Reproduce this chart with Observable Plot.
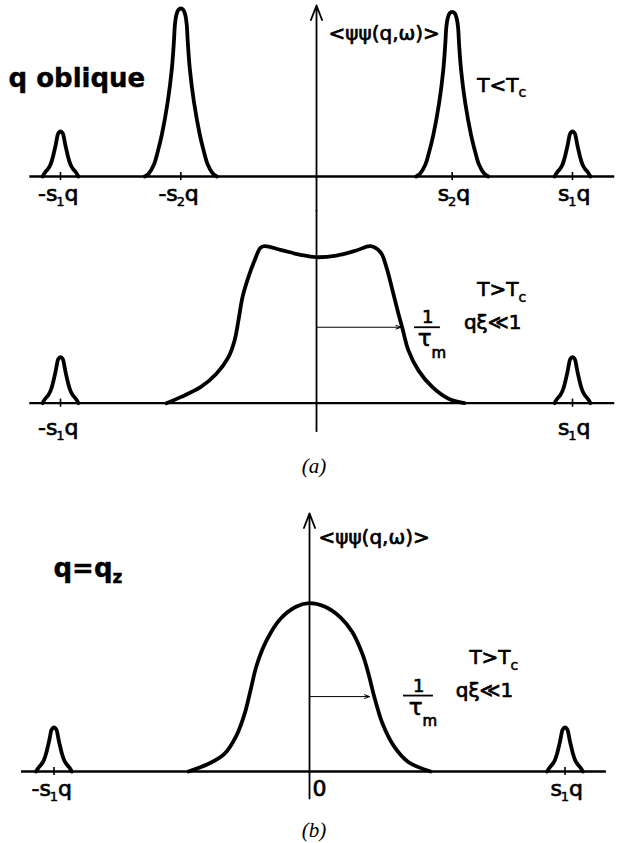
<!DOCTYPE html>
<html><head><meta charset="utf-8">
<script src="https://cdn.jsdelivr.net/npm/d3@7"></script>
<script src="https://cdn.jsdelivr.net/npm/@observablehq/plot@0.6"></script>
<style>
body{margin:0;background:#fff;}
#fig{width:628px;}
#fig svg{display:block;}
.cap{font-family:"Liberation Serif","Times New Roman",serif;font-style:italic;font-size:21px;text-align:center;width:628px;box-sizing:border-box;}
</style></head><body><div id="fig"></div>
<script>
// ---- data (ω in units where s1·q = 10, intensity in units of the tall peak) ----
const s1 = 10, s2 = 5.3;

// sharp Bragg-like peaks (T < Tc): offsets from centre and relative intensity
const bigPeakDw = [-1.41,-1.25,-1.05,-0.90,-0.74,-0.51,-0.35,-0.27,-0.23,-0.18,-0.10,0,0.10,0.18,0.23,0.27,0.35,0.51,0.74,0.90,1.05,1.25,1.41];
const bigPeakI  = [0,0.018,0.071,0.149,0.25,0.446,0.643,0.804,0.905,0.958,0.991,1,0.991,0.958,0.905,0.804,0.643,0.446,0.25,0.149,0.071,0.018,0];
const smallPeakDw = [-0.70,-0.625,-0.47,-0.39,-0.31,-0.246,-0.1875,-0.148,-0.109,-0.078,0,0.078,0.109,0.148,0.1875,0.246,0.31,0.39,0.47,0.625,0.70];
const smallPeakI  = [0,0.073,0.184,0.267,0.407,0.556,0.704,0.822,0.927,0.967,1,0.967,0.927,0.822,0.704,0.556,0.407,0.267,0.184,0.073,0];

// top panel (T<Tc): peak centres, kinds, amplitudes, tick labels (prefix, subscript)
const topCenters = [-s1, -s2, s2, s1];
const topKinds   = ["small", "big", "big", "small"];
const topAmps    = [0.268, 1.0, 0.98, 0.268];
const topTickPrefix = ["-s", "-s", "s", "s"];
const topTickSub    = ["1", "2", "2", "1"];

// middle panel (T>Tc, q oblique): broad response
const midW = [-5.86,-5.31,-4.53,-3.91,-3.44,-3.20,-3.05,-2.89,-2.66,-2.42,-2.19,-2.03,-1.41,-0.625,0,0.78,1.56,2.11,2.5,2.73,2.97,3.2,3.36,3.59,3.98,4.53,5.16,5.78];
const midI = [0,0.036,0.095,0.175,0.274,0.373,0.492,0.631,0.75,0.849,0.925,0.935,0.913,0.883,0.869,0.879,0.909,0.935,0.899,0.81,0.671,0.532,0.443,0.314,0.195,0.095,0.026,0];
const midCenters = [-s1, s1];
const midAmps = [0.274, 0.274];
const midTickPrefix = ["-s", "s"];
const midTickSub    = ["1", "1"];

// bottom panel (q = qz): single central peak
const botW = [-4.74,-3.95,-3.33,-2.86,-2.54,-2.31,-2.07,-1.68,-1.135,-0.51,0,0.59,1.21,1.68,2.07,2.31,2.54,2.86,3.33,3.88,4.74];
const botI = [0,0.046,0.105,0.214,0.343,0.482,0.631,0.78,0.909,0.982,1.002,0.982,0.918,0.829,0.7,0.581,0.442,0.284,0.145,0.055,0];
const botCenters = [-s1, s1];
const botAmps = [0.262, 0.262];
const botTickPrefix = ["-s", "s"];
const botTickSub    = ["1", "1"];

// width markers 1/τm
const midHalfWidth = 3.3, midHalfLevel = 0.452;
const botHalfWidth = 2.35, botHalfLevel = 0.446;

// ---- helpers ----
function peak(center, kind, amp, key) {
  const dw = kind === "big" ? bigPeakDw : smallPeakDw;
  const I = kind === "big" ? bigPeakI : smallPeakI;
  return dw.map((d, i) => ({w: center + d, I: amp * I[i], key}));
}
const FONT = "DejaVu Sans";
const W = 628;
const heavy = {stroke: "#000", strokeWidth: 0.7, fill: "#000"};
const curveStyle = {x: "w", y: "I", z: "key", curve: "catmull-rom", stroke: "#000", strokeWidth: 3.8, strokeLinejoin: "round", strokeLinecap: "round"};
function baseline(x1, x2) { return Plot.ruleY([0], {x1, x2, stroke: "#000", strokeWidth: 2.4}); }
function ticks(pos) { return Plot.ruleX(pos, {x: d => d, y1: -0.024, y2: 0.024, stroke: "#000", strokeWidth: 1.6}); }
function tickLabels(pos, pre, sub, y) {
  const items = pos.map((p, i) => ({p, pre: pre[i], sub: sub[i], q: "q"}));
  const common = {x: "p", y, fontFamily: FONT, lineAnchor: "middle", ...heavy};
  return [
    Plot.text(items, {...common, text: "pre", fontSize: 22, textAnchor: "end", dx: -3}),
    Plot.text(items, {...common, text: "sub", fontSize: 13, textAnchor: "middle", dy: 8, strokeWidth: 0.5}),
    Plot.text(items, {...common, text: "q", fontSize: 22, textAnchor: "start", dx: 4})
  ];
}
function txt(x, y, t, opts = {}) {
  return Plot.text([t], {x, y, text: d => d, fontFamily: FONT, lineAnchor: "middle", ...heavy, ...opts});
}
function tauLabel(xc, yOne, yBar, xb1, xb2, yTau, yM) {
  return [
    txt(xc, yOne, "1", {fontSize: 18, textAnchor: "middle"}),
    Plot.ruleY([yBar], {x1: xb1, x2: xb2, stroke: "#000", strokeWidth: 1.8}),
    txt(xc, yTau, "τ", {fontSize: 23, textAnchor: "end", dx: 4}),
    txt(xc, yM, "m", {fontSize: 15, textAnchor: "start", dx: 4})
  ];
}
function condLabel(xEnd, yT, yc, xq, yq, sym) {
  return [
    txt(xEnd, yT, "T" + sym + "T", {fontSize: 20, textAnchor: "end"}),
    txt(xEnd, yc, "c", {fontSize: 14, textAnchor: "start", strokeWidth: 0.5}),
    txt(xq, yq, "qξ≪1", {fontSize: 20, textAnchor: "middle"})
  ];
}

const fig = document.getElementById("fig");

// ---- panel (a), T < Tc ----
const topPts = topCenters.flatMap((c, i) => peak(c, topKinds[i], topAmps[i], "t" + i));
fig.appendChild(Plot.plot({
  width: W, height: 210, margin: 0,
  x: {domain: [-12.344, 12.1875], axis: null},
  y: {domain: [-0.2024, 1.0476], axis: null},
  style: {fontFamily: FONT, overflow: "visible", background: "white"},
  marks: [
    baseline(-11.2, 11.65),
    ticks(topCenters),
    Plot.arrow([0], {x1: 0, x2: 0, y1: -0.2024, y2: 1.018, stroke: "#000", strokeWidth: 1.8, headLength: 13, headAngle: 42}),
    Plot.line(topPts, curveStyle),
    ...tickLabels(topCenters, topTickPrefix, topTickSub, -0.104),
    txt(-12.03, 0.583, "q oblique", {fontSize: 26, fontWeight: "bold", textAnchor: "start", strokeWidth: 0.4}),
    txt(0.47, 0.851, "<ψψ(q,ω)>", {fontSize: 20, textAnchor: "start"}),
    txt(7.89, 0.542, "T<T", {fontSize: 20, textAnchor: "end"}),
    txt(7.89, 0.50, "c", {fontSize: 14, textAnchor: "start", strokeWidth: 0.5})
  ]
}));

// ---- panel (a), T > Tc ----
const midPts = midW.map((w, i) => ({w, I: midI[i], key: "broad"}))
  .concat(midCenters.flatMap((c, i) => peak(c, "small", midAmps[i], "m" + i)));
fig.appendChild(Plot.plot({
  width: W, height: 235, margin: 0,
  x: {domain: [-12.344, 12.1875], axis: null},
  y: {domain: [-0.252, 1.147], axis: null},
  style: {fontFamily: FONT, overflow: "visible", background: "white"},
  marks: [
    baseline(-11.2, 11.65),
    ticks(midCenters),
    Plot.ruleX([0], {y1: -0.174, y2: 1.147, stroke: "#000", strokeWidth: 1.8}),
    Plot.line(midPts, curveStyle),
    Plot.arrow([0], {x1: 0, x2: midHalfWidth, y1: midHalfLevel, y2: midHalfLevel, stroke: "#000", strokeWidth: 1, headLength: 8, headAngle: 40}),
    ...tauLabel(4.34, 0.51, 0.452, 3.83, 4.84, 0.385, 0.295),
    ...condLabel(7.89, 0.676, 0.628, 6.88, 0.48, ">"),
    ...tickLabels(midCenters, midTickPrefix, midTickSub, -0.145)
  ]
}));

const capA = document.createElement("div");
capA.className = "cap";
capA.style.cssText = "height:35px;padding-top:9px;line-height:24px;";
capA.textContent = "(a)";
fig.appendChild(capA);

// ---- panel (b), q = qz ----
const botPts = botW.map((w, i) => ({w, I: botI[i], key: "bell"}))
  .concat(botCenters.flatMap((c, i) => peak(c, "small", botAmps[i], "b" + i)));
fig.appendChild(Plot.plot({
  width: W, height: 330, margin: 0,
  x: {domain: [-12.094, 12.485], axis: null},
  y: {domain: [-0.232, 1.732], axis: null},
  style: {fontFamily: FONT, overflow: "visible", background: "white"},
  marks: [
    baseline(-11.27, 11.62),
    ticks(botCenters),
    Plot.arrow([0], {x1: 0, x2: 0, y1: -0.161, y2: 1.536, stroke: "#000", strokeWidth: 1.8, headLength: 13, headAngle: 42}),
    Plot.line(botPts, curveStyle),
    Plot.arrow([0], {x1: 0, x2: botHalfWidth, y1: botHalfLevel, y2: botHalfLevel, stroke: "#000", strokeWidth: 1, headLength: 8, headAngle: 40}),
    ...tauLabel(4.27, 0.506, 0.452, 3.68, 4.85, 0.381, 0.298),
    ...condLabel(7.87, 0.679, 0.631, 6.85, 0.482, ">"),
    ...tickLabels(botCenters, botTickPrefix, botTickSub, -0.101),
    txt(0.39, -0.101, "0", {fontSize: 22, textAnchor: "middle"}),
    txt(0.35, 1.393, "<ψψ(q,ω)>", {fontSize: 20, textAnchor: "start"}),
    txt(-7.71, 1.208, "q=q", {fontSize: 26, fontWeight: "bold", textAnchor: "end", strokeWidth: 0.4}),
    txt(-7.71, 1.155, "z", {fontSize: 17, fontWeight: "bold", textAnchor: "start", strokeWidth: 0.4})
  ]
}));

const capB = document.createElement("div");
capB.className = "cap";
capB.style.cssText = "height:33px;padding-top:8px;line-height:24px;";
capB.textContent = "(b)";
fig.appendChild(capB);
</script></body></html>
